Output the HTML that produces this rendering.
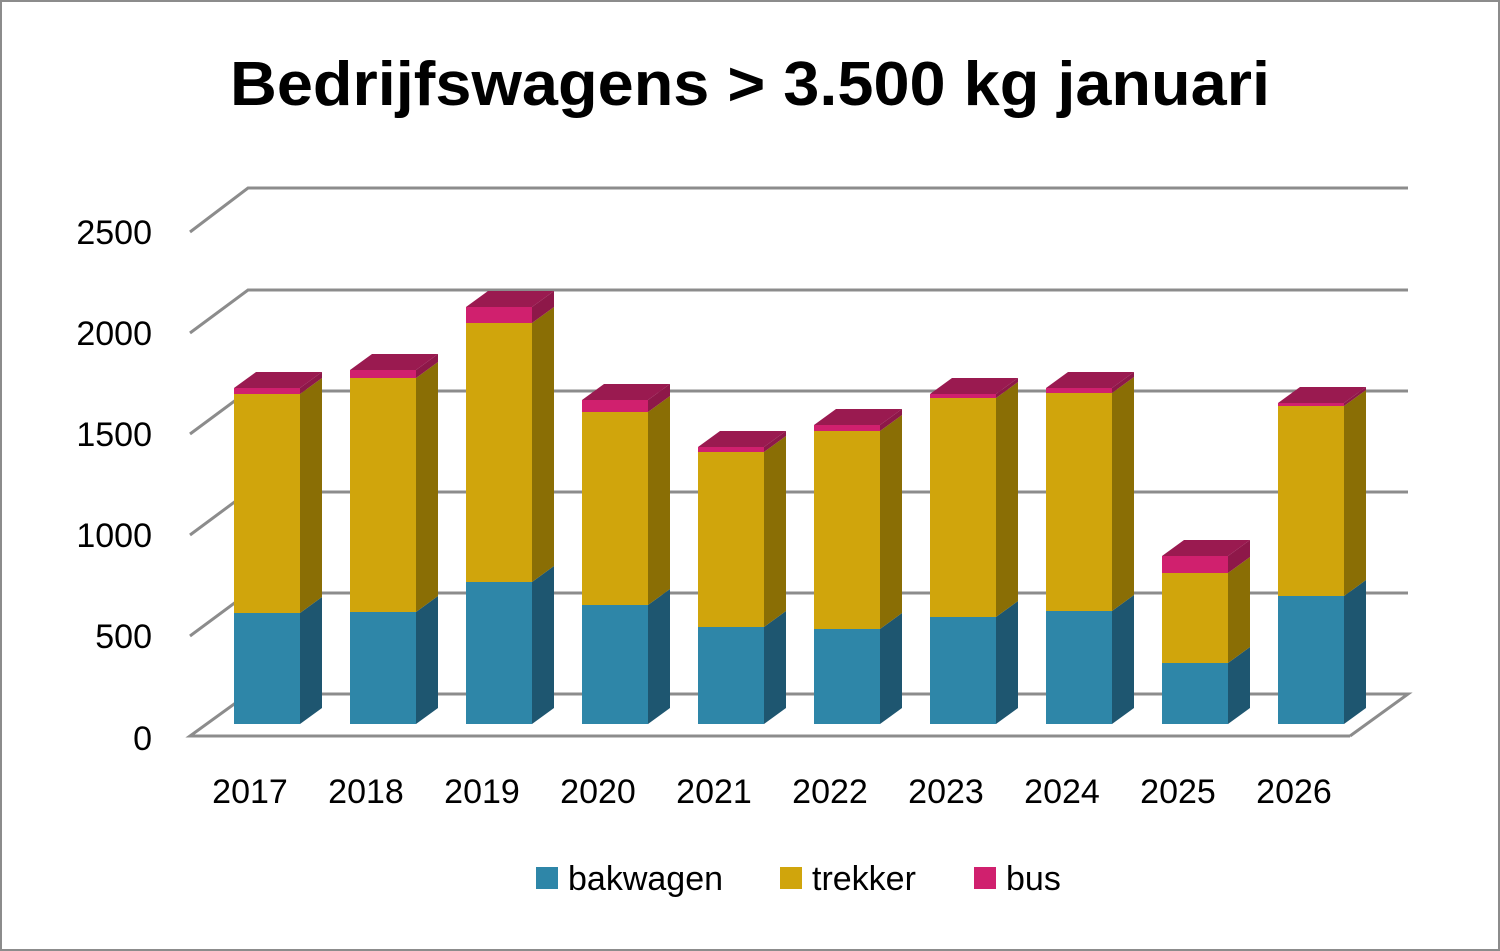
<!DOCTYPE html>
<html><head><meta charset="utf-8"><style>
html,body{margin:0;padding:0;background:#fff;}
svg{display:block;font-family:"Liberation Sans",sans-serif;}
</style></head><body>
<svg width="1500" height="951" viewBox="0 0 1500 951" xmlns="http://www.w3.org/2000/svg">
<rect x="1" y="1" width="1498" height="949" fill="#fff" stroke="#8c8c8c" stroke-width="2"/>
<text x="230" y="105" textLength="1040" lengthAdjust="spacingAndGlyphs" font-size="62" font-weight="bold" fill="#000">Bedrijfswagens &gt; 3.500 kg januari</text>
<g stroke="#8c8c8c" stroke-width="3" fill="none">
<polyline points="190,232 248,188 1408,188"/>
<polyline points="190,333 248,290 1408,290"/>
<polyline points="190,434 248,391 1408,391"/>
<polyline points="190,535 248,492 1408,492"/>
<polyline points="190,636 248,593 1408,593"/>
<polyline points="1350,736 190,736 248,694 1408,694 1350,736"/>
</g>
<g font-size="34" fill="#000" text-anchor="end">
<text x="152" y="244">2500</text>
<text x="152" y="345">2000</text>
<text x="152" y="446">1500</text>
<text x="152" y="547">1000</text>
<text x="152" y="648">500</text>
<text x="152" y="750">0</text>
</g>
<g>
<!-- 2017 -->
<rect x="234" y="613" width="66" height="111" fill="#2E86A8"/><polygon points="300,724 322,708 322,597 300,613" fill="#1E5670"/>
<rect x="234" y="394" width="66" height="219" fill="#D0A50C"/><polygon points="300,613 322,597 322,378 300,394" fill="#8A6E05"/>
<rect x="234" y="388" width="66" height="6" fill="#D0206E"/><polygon points="300,394 322,378 322,372 300,388" fill="#8E1849"/>
<polygon points="234,388 256,372 322,372 300,388" fill="#9A1A50"/>
<!-- 2018 -->
<rect x="350" y="612" width="66" height="112" fill="#2E86A8"/><polygon points="416,724 438,708 438,596 416,612" fill="#1E5670"/>
<rect x="350" y="378" width="66" height="234" fill="#D0A50C"/><polygon points="416,612 438,596 438,362 416,378" fill="#8A6E05"/>
<rect x="350" y="370" width="66" height="8" fill="#D0206E"/><polygon points="416,378 438,362 438,354 416,370" fill="#8E1849"/>
<polygon points="350,370 372,354 438,354 416,370" fill="#9A1A50"/>
<!-- 2019 -->
<rect x="466" y="582" width="66" height="142" fill="#2E86A8"/><polygon points="532,724 554,708 554,566 532,582" fill="#1E5670"/>
<rect x="466" y="323" width="66" height="259" fill="#D0A50C"/><polygon points="532,582 554,566 554,307 532,323" fill="#8A6E05"/>
<rect x="466" y="307" width="66" height="16" fill="#D0206E"/><polygon points="532,323 554,307 554,291 532,307" fill="#8E1849"/>
<polygon points="466,307 488,291 554,291 532,307" fill="#9A1A50"/>
<!-- 2020 -->
<rect x="582" y="605" width="66" height="119" fill="#2E86A8"/><polygon points="648,724 670,708 670,589 648,605" fill="#1E5670"/>
<rect x="582" y="412" width="66" height="193" fill="#D0A50C"/><polygon points="648,605 670,589 670,396 648,412" fill="#8A6E05"/>
<rect x="582" y="400" width="66" height="12" fill="#D0206E"/><polygon points="648,412 670,396 670,384 648,400" fill="#8E1849"/>
<polygon points="582,400 604,384 670,384 648,400" fill="#9A1A50"/>
<!-- 2021 -->
<rect x="698" y="627" width="66" height="97" fill="#2E86A8"/><polygon points="764,724 786,708 786,611 764,627" fill="#1E5670"/>
<rect x="698" y="452" width="66" height="175" fill="#D0A50C"/><polygon points="764,627 786,611 786,436 764,452" fill="#8A6E05"/>
<rect x="698" y="447" width="66" height="5" fill="#D0206E"/><polygon points="764,452 786,436 786,431 764,447" fill="#8E1849"/>
<polygon points="698,447 720,431 786,431 764,447" fill="#9A1A50"/>
<!-- 2022 -->
<rect x="814" y="629" width="66" height="95" fill="#2E86A8"/><polygon points="880,724 902,708 902,613 880,629" fill="#1E5670"/>
<rect x="814" y="431" width="66" height="198" fill="#D0A50C"/><polygon points="880,629 902,613 902,415 880,431" fill="#8A6E05"/>
<rect x="814" y="425" width="66" height="6" fill="#D0206E"/><polygon points="880,431 902,415 902,409 880,425" fill="#8E1849"/>
<polygon points="814,425 836,409 902,409 880,425" fill="#9A1A50"/>
<!-- 2023 -->
<rect x="930" y="617" width="66" height="107" fill="#2E86A8"/><polygon points="996,724 1018,708 1018,601 996,617" fill="#1E5670"/>
<rect x="930" y="398" width="66" height="219" fill="#D0A50C"/><polygon points="996,617 1018,601 1018,382 996,398" fill="#8A6E05"/>
<rect x="930" y="394" width="66" height="4" fill="#D0206E"/><polygon points="996,398 1018,382 1018,378 996,394" fill="#8E1849"/>
<polygon points="930,394 952,378 1018,378 996,394" fill="#9A1A50"/>
<!-- 2024 -->
<rect x="1046" y="611" width="66" height="113" fill="#2E86A8"/><polygon points="1112,724 1134,708 1134,595 1112,611" fill="#1E5670"/>
<rect x="1046" y="393" width="66" height="218" fill="#D0A50C"/><polygon points="1112,611 1134,595 1134,377 1112,393" fill="#8A6E05"/>
<rect x="1046" y="388" width="66" height="5" fill="#D0206E"/><polygon points="1112,393 1134,377 1134,372 1112,388" fill="#8E1849"/>
<polygon points="1046,388 1068,372 1134,372 1112,388" fill="#9A1A50"/>
<!-- 2025 -->
<rect x="1162" y="663" width="66" height="61" fill="#2E86A8"/><polygon points="1228,724 1250,708 1250,647 1228,663" fill="#1E5670"/>
<rect x="1162" y="573" width="66" height="90" fill="#D0A50C"/><polygon points="1228,663 1250,647 1250,557 1228,573" fill="#8A6E05"/>
<rect x="1162" y="556" width="66" height="17" fill="#D0206E"/><polygon points="1228,573 1250,557 1250,540 1228,556" fill="#8E1849"/>
<polygon points="1162,556 1184,540 1250,540 1228,556" fill="#9A1A50"/>
<!-- 2026 -->
<rect x="1278" y="596" width="66" height="128" fill="#2E86A8"/><polygon points="1344,724 1366,708 1366,580 1344,596" fill="#1E5670"/>
<rect x="1278" y="406" width="66" height="190" fill="#D0A50C"/><polygon points="1344,596 1366,580 1366,390 1344,406" fill="#8A6E05"/>
<rect x="1278" y="403" width="66" height="3" fill="#D0206E"/><polygon points="1344,406 1366,390 1366,387 1344,403" fill="#8E1849"/>
<polygon points="1278,403 1300,387 1366,387 1344,403" fill="#9A1A50"/>
</g>
<g font-size="34" fill="#000" text-anchor="middle">
<text x="250" y="803">2017</text><text x="366" y="803">2018</text><text x="482" y="803">2019</text>
<text x="598" y="803">2020</text><text x="714" y="803">2021</text><text x="830" y="803">2022</text>
<text x="946" y="803">2023</text><text x="1062" y="803">2024</text><text x="1178" y="803">2025</text>
<text x="1294" y="803">2026</text>
</g>
<rect x="536" y="867" width="22" height="22" fill="#2E86A8"/>
<text x="568" y="890" font-size="34">bakwagen</text>
<rect x="780" y="867" width="22" height="22" fill="#D0A50C"/>
<text x="812" y="890" font-size="34">trekker</text>
<rect x="974" y="867" width="22" height="22" fill="#D0206E"/>
<text x="1006" y="890" font-size="34">bus</text>
</svg>
</body></html>
